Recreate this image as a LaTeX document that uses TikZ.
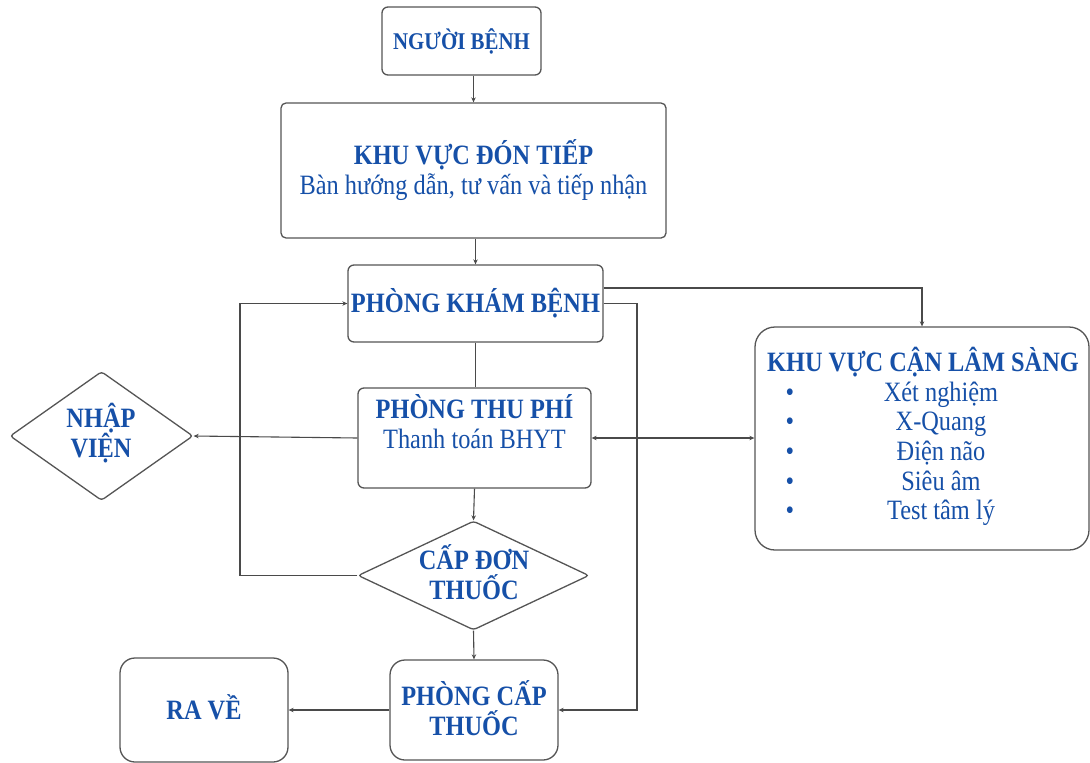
\documentclass[tikz,border=0pt]{standalone}
\usepackage{fontspec}
\setmainfont{Liberation Serif}[FakeStretch=0.87]
\usetikzlibrary{shapes.geometric,arrows.meta,calc}
\definecolor{tblue}{HTML}{1650A8}
\definecolor{linec}{HTML}{555555}
\definecolor{linec2}{HTML}{4A4A4A}
\tikzset{
  box/.style={draw=linec, line width=1.3pt, fill=white, inner sep=0pt, text=tblue, align=center, font=\fontsize{28}{30}\selectfont},
  dia/.style={draw=linec, line width=1.3pt, diamond, inner sep=0pt, fill=white, rounded corners=3pt},
  txt/.style={text=tblue, align=center, inner sep=0pt, font=\fontsize{28}{30}\selectfont},
  conn/.style={draw=linec2, line width=1.1pt},
  arr/.style={conn, -{Stealth[length=5pt,width=4.5pt]}},
  darr/.style={conn, {Stealth[length=5pt,width=4.5pt]}-{Stealth[length=5pt,width=4.5pt]}},
}
\begin{document}
\begin{tikzpicture}[x=1pt,y=-1pt]
\useasboundingbox[fill=white] (0,0) rectangle (1090,763);

% boxes
\node[box, minimum width=159, minimum height=68, rounded corners=6pt, font=\fontsize{24}{26}\selectfont] (ng) at (461.5,41) {\textbf{NGƯỜI BỆNH}};
\node[box, minimum width=385, minimum height=135, rounded corners=5pt] (kv) at (473.5,170.5) {\textbf{KHU VỰC ĐÓN TIẾP}\\Bàn hướng dẫn, tư vấn và tiếp nhận};
\node[box, minimum width=255, minimum height=77, rounded corners=6pt] (pkb) at (475.5,303.5) {\textbf{PHÒNG KHÁM BỆNH}};
\node[box, minimum width=233, minimum height=100, rounded corners=6pt] (ptp) at (474.5,438) {};
\node[txt] (ptpt) at (474.5,422) {\textbf{PHÒNG THU PHÍ}\\Thanh toán BHYT};
\node[dia, minimum width=183, minimum height=129] (nv) at (101.5,436) {};
\node[txt] (nvt) at (101,433) {\textbf{NHẬP}\\\textbf{VIỆN}};
\node[dia, minimum width=231, minimum height=109] (cdt) at (473.5,575.5) {};
\node[txt] (cdtt) at (474,572) {\textbf{CẤP ĐƠN}\\\textbf{THUỐC}};
\node[box, minimum width=168, minimum height=100, rounded corners=15pt] (pct) at (474,710) {};
\node[txt] (pctt) at (474,708) {\textbf{PHÒNG CẤP}\\\textbf{THUỐC}};
\node[box, minimum width=168, minimum height=104, rounded corners=15pt] (rv) at (204,710) {};
\node[txt] (rvt) at (204,707) {\textbf{RA VỀ}};
\node[box, minimum width=334, minimum height=223, rounded corners=20pt] (kc) at (922,438.5) {};
\node[txt] (kct) at (923,362) {\textbf{KHU VỰC CẬN LÂM SÀNG}};
\foreach \y/\t [count=\i] in {401/Xét nghiệm,430.5/X-Quang,460/Điện não,490/Siêu âm,519.5/Test tâm lý}{
  \node[txt, anchor=base] (b\i) at (790,\y) {•};
  \node[txt, anchor=base] (it\i) at (941,\y) {\t};
}

% helper coordinates
\coordinate (lc) at (240,0);
\coordinate (rc) at (637,0);
\coordinate (kcx) at (922,288);

% connectors
\draw[arr] (kv.north |- ng.south) -- (kv.north);
\draw[arr] (kv.south -| pkb.north) -- (pkb.north);
\draw[conn] (pkb.south) -- (pkb.south |- ptp.north);
\draw[arr] (ptp.south) -- (cdt.north);
\draw[arr] (cdt.south) -- (pct.north);
\draw[arr] (pct.west) -- (rv.east);
\draw[arr] (ptp.west) -- (nv.east);
\draw[darr] (ptp.east) -- (ptp.east -| kc.west);
\draw[arr] (kcx -| pkb.east) -- (kcx) -- (kc.north);
\draw[arr] (pkb.east) -- (pkb.east -| rc) |- (pct.east);
\draw[arr] (cdt.west) -- (cdt.west -| lc) -- (pkb.west -| lc) -- (pkb.west);
\end{tikzpicture}
\end{document}
